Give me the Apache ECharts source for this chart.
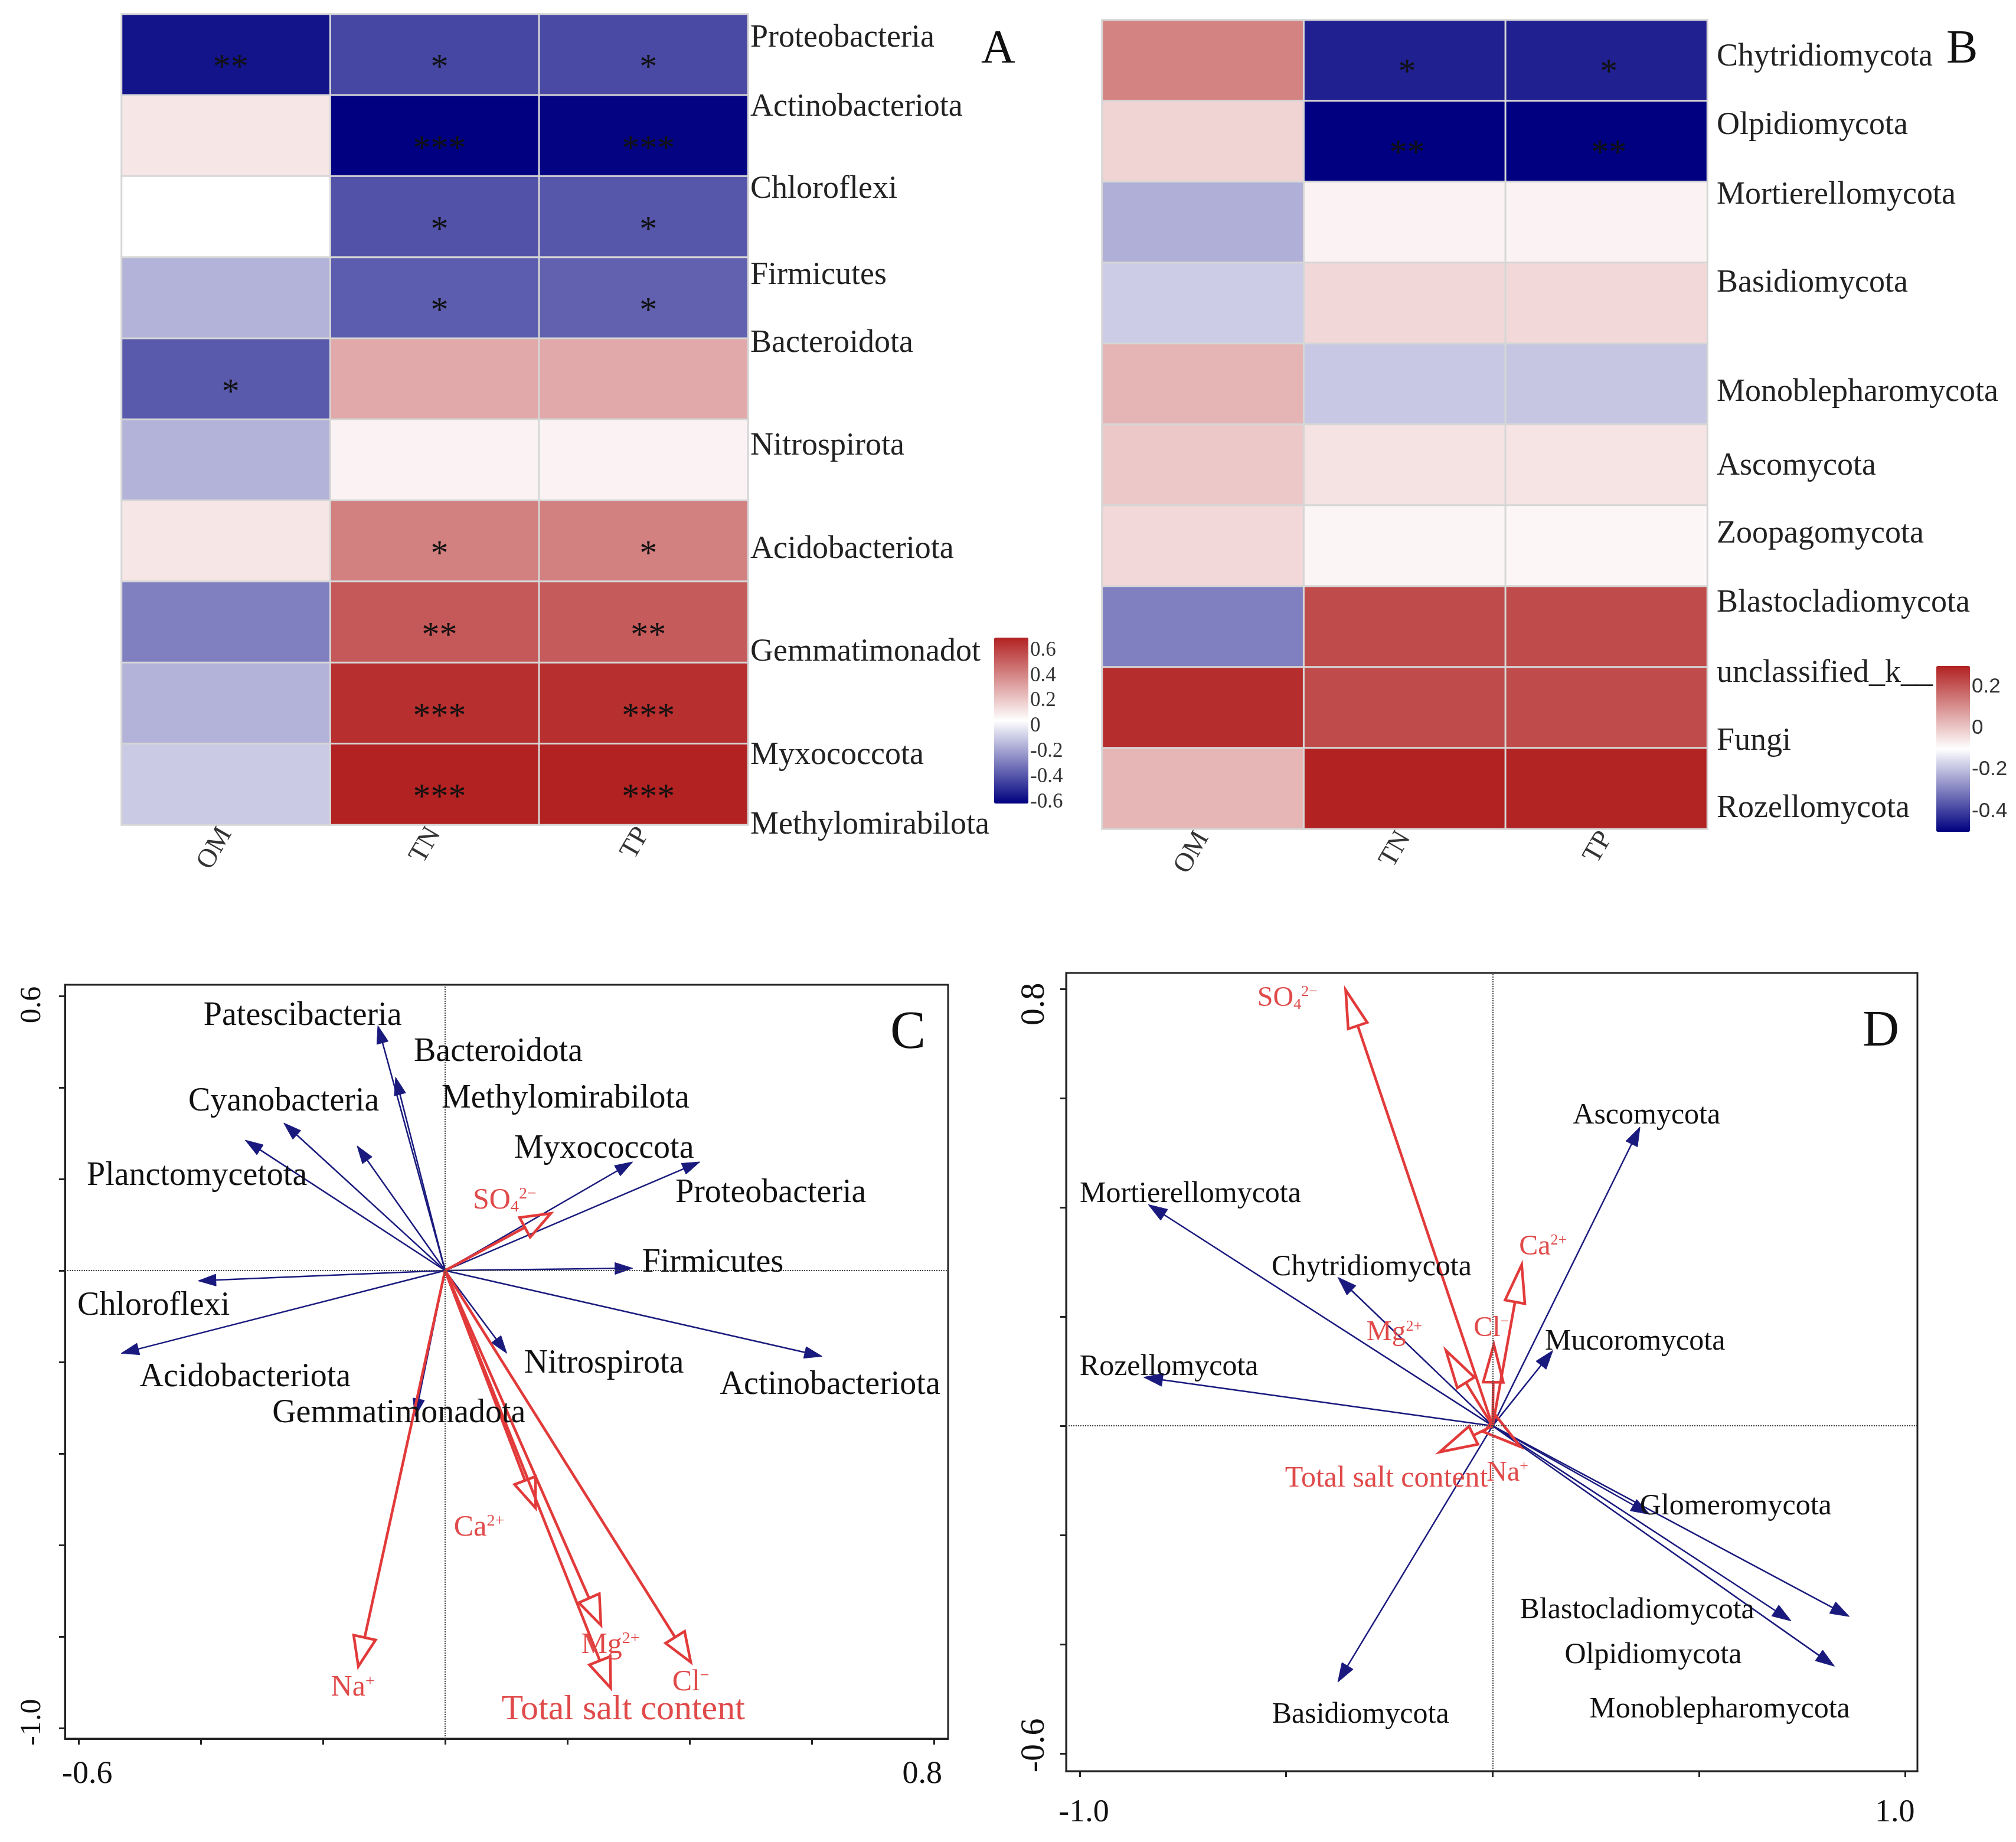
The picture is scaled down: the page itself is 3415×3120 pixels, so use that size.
<!DOCTYPE html>
<html><head><meta charset="utf-8">
<script src="https://cdn.jsdelivr.net/npm/echarts@6.0.0/dist/echarts.min.js"></script>
<style>html,body{margin:0;padding:0;background:#fff}#c{width:3415px;height:3120px}</style>
</head><body><div id="c"></div>
<script>
// ---------------- DATA ----------------
const envCols = ['OM', 'TN', 'TP'];

// Panel A : bacteria vs OM/TN/TP correlations
const bacteriaRows = ['Proteobacteria','Actinobacteriota','Chloroflexi','Firmicutes','Bacteroidota','Nitrospirota','Acidobacteriota','Gemmatimonadot','Myxococcota','Methylomirabilota'];
const bacteriaOM = [-0.56, 0.12, 0.045, -0.15, -0.38, -0.15, 0.12, -0.28, -0.15, -0.09];
const bacteriaTN = [-0.43, -0.61, -0.40, -0.37, 0.30, 0.08, 0.42, 0.54, 0.66, 0.70];
const bacteriaTP = [-0.42, -0.60, -0.39, -0.36, 0.30, 0.08, 0.42, 0.53, 0.66, 0.70];
const bacteriaStarsOM = ['**','','','','*','','','','',''];
const bacteriaStarsTN = ['*','***','*','*','','','*','**','***','***'];
const bacteriaStarsTP = ['*','***','*','*','','','*','**','***','***'];
const scaleA = [-0.61, 0.70];
const ticksA = [-0.6, -0.4, -0.2, 0, 0.2, 0.4, 0.6];

// Panel B : fungi vs OM/TN/TP correlations
const fungiRows = ['Chytridiomycota','Olpidiomycota','Mortierellomycota','Basidiomycota','Monoblepharomycota','Ascomycota','Zoopagomycota','Blastocladiomycota','unclassified_k__Fungi','Rozellomycota'];
const fungiOM = [0.125, -0.02, -0.225, -0.18, 0.035, 0.0, -0.03, -0.30, 0.28, 0.032];
const fungiTN = [-0.45, -0.50, -0.078, -0.028, -0.186, -0.05, -0.082, 0.226, 0.226, 0.30];
const fungiTP = [-0.45, -0.50, -0.078, -0.03, -0.19, -0.052, -0.083, 0.225, 0.225, 0.298];
const fungiStarsOM = ['','','','','','','','','',''];
const fungiStarsTN = ['*','**','','','','','','','',''];
const fungiStarsTP = ['*','**','','','','','','','',''];
const scaleB = [-0.5, 0.3];
const ticksB = [-0.4, -0.2, 0, 0.2];

// Panel C : bacterial RDA
const cSpecies = ['Patescibacteria','Bacteroidota','Cyanobacteria','Planctomycetota','Methylomirabilota','Myxococcota','Proteobacteria','Firmicutes','Chloroflexi','Acidobacteriota','Nitrospirota','Actinobacteriota','Gemmatimonadota'];
const cSpeciesX = [-0.110, -0.081, -0.264, -0.327, -0.144, 0.307, 0.417, 0.307, -0.404, -0.530, 0.101, 0.617, -0.049];
const cSpeciesY = [0.535, 0.4225, 0.3225, 0.285, 0.2725, 0.2375, 0.2375, 0.005, -0.0225, -0.181, -0.181, -0.1875, -0.319];
const cEnv = ['SO4 2-','Ca2+','Mg2+','Total salt content','Cl-','Na+'];
const cEnvX = [0.173, 0.148, 0.255, 0.271, 0.402, -0.142];
const cEnvY = [0.125, -0.519, -0.775, -0.9125, -0.856, -0.865];
const cTicksX = [-0.6, -0.4, -0.2, 0, 0.2, 0.4, 0.6, 0.8];
const cTicksY = [-1.0, -0.8, -0.6, -0.4, -0.2, 0, 0.2, 0.4, 0.6];
const cLabelsX = [-0.6, 0.8];
const cLabelsY = [-1.0, 0.6];

// Panel D : fungal RDA
const dSpecies = ['Ascomycota','Mortierellomycota','Chytridiomycota','Rozellomycota','Mucoromycota','Glomeromycota','Blastocladiomycota','Olpidiomycota','Monoblepharomycota','Basidiomycota'];
const dSpeciesX = [0.357, -0.834, -0.375, -0.845, 0.146, 0.381, 0.723, 0.864, 0.828, -0.375];
const dSpeciesY = [0.547, 0.405, 0.272, 0.089, 0.138, -0.162, -0.357, -0.349, -0.440, -0.469];
const dEnv = ['SO4 2-','Ca2+','Cl-','Mg2+','Total salt content','Na+'];
const dEnvX = [-0.356, 0.0705, 0.003, -0.113, -0.1285, 0.067];
const dEnvY = [0.798, 0.295, 0.149, 0.138, -0.048, -0.038];
const dTicksX = [-1.0, -0.5, 0, 0.5, 1.0];
const dTicksY = [-0.6, -0.4, -0.2, 0, 0.2, 0.4, 0.6, 0.8];
const dLabelsX = [-1.0, 1.0];
const dLabelsY = [-0.6, 0.8];

// ---------------- LAYOUT / STYLE ----------------
const FONT = "'Liberation Serif', 'Times New Roman', serif";
const SANS = "'Liberation Sans', Arial, sans-serif";
const NAVY = '#000080', FIRE = '#B22222';
const BLUE = '#1a1a7e', RED = '#e23a3a', RED_TXT = '#e04a4a';
// label anchors (text positions, in data units)
const cSpeciesLabelX = [-0.233, 0.087, -0.264, -0.406, 0.197, 0.260, 0.533, 0.438, -0.477, -0.327, 0.260, 0.630, -0.0755];
const cSpeciesLabelY = [0.556, 0.4775, 0.369, 0.206, 0.375, 0.266, 0.169, 0.016, -0.0775, -0.234, -0.204, -0.25, -0.3125];
const cEnvLabelX = [0.0975, 0.0556, 0.2705, 0.2915, 0.402, -0.151];
const cEnvLabelY = [0.1525, -0.5625, -0.819, -0.96, -0.9, -0.9125];
const dSpeciesLabelX = [0.373, -0.732, -0.293, -0.784, 0.345, 0.589, 0.350, 0.389, 0.550, -0.320];
const dSpeciesLabelY = [0.568, 0.424, 0.290, 0.107, 0.154, -0.148, -0.338, -0.420, -0.519, -0.529];
const dEnvLabelX = [-0.497, 0.122, -0.003, -0.238, -0.257, 0.036];
const dEnvLabelY = [0.782, 0.327, 0.178, 0.170, -0.097, -0.087];
const rowShiftA = [-28, -48, -46, -38, -60, -23, 14, 51, 89, 69];
const rowShiftB = [-6, -27, -46, -34, 14, 2, -20, -40, -2, 34];

const ionRich = {
  'SO4 2-': '{m|SO}{sub|4}{sup|2\u2212}',
  'Ca2+': '{m|Ca}{sup|2+}',
  'Mg2+': '{m|Mg}{sup|2+}',
  'Cl-': '{m|Cl}{sup|\u2212}',
  'Na+': '{m|Na}{sup|+}',
  'Total salt content': '{m|Total salt content}'
};

function heatData(cols) {
  const out = [];
  cols.forEach((arr, xi) => arr.forEach((v, yi) => out.push([xi, yi, v])));
  return out;
}
function rowRich(shifts, size, special) {
  const r = {};
  shifts.forEach((d, i) => {
    r['r' + i] = { fontSize: size, fontFamily: FONT, color: '#222',
      padding: d < 0 ? [0, 0, -2 * d, 0] : [2 * d, 0, 0, 0] };
    if (special && special[i]) Object.assign(r['r' + i], special[i]);
  });
  return r;
}
function rowFormatter(v, i) {
  if (v === 'unclassified_k__Fungi') return '{r' + i + '|unclassified_k__}\n{r' + i + '|Fungi}';
  return '{r' + i + '|' + v + '}';
}
const fmt1 = v => Math.abs(v) < 1e-9 ? '0' : (Math.round(v * 10) / 10).toString();

function heatX(gi) {
  return { gridIndex: gi, type: 'category', data: envCols, position: 'bottom',
    axisLine: { show: false }, axisTick: { show: false }, splitLine: { show: false },
    axisLabel: { rotate: 60, interval: 0, fontSize: 46, fontFamily: FONT, color: '#333', margin: 8 } };
}
function heatY(gi, rows, shifts, margin, special) {
  return { gridIndex: gi, type: 'category', data: rows, inverse: true, position: 'right',
    axisLine: { show: false }, axisTick: { show: false }, splitLine: { show: false },
    axisLabel: { interval: 0, margin: margin, align: 'left', formatter: rowFormatter, rich: rowRich(shifts, 54, special) } };
}
function cbY(gi, range, ticks, font) {
  return { gridIndex: gi, type: 'value', min: range[0], max: range[1], position: 'right',
    axisLine: { show: false }, splitLine: { show: false },
    axisTick: { show: true, length: 9, inside: false, customValues: ticks, lineStyle: { color: '#333', width: 2 } },
    axisLabel: { customValues: ticks, formatter: fmt1, fontSize: 35, fontFamily: font, color: '#333', margin: 3 } };
}
function frameAxis(gi, dim, range, ticks, labels, shiftMap, rotate, margin, fontSize) {
  const rich = {};
  labels.forEach((v, i) => {
    const s = shiftMap[i];
    rich['l' + i] = { fontSize: fontSize, fontFamily: FONT, color: '#111',
      padding: s < 0 ? [0, -2 * s, 0, 0] : [0, 0, 0, 2 * s] };
  });
  return { gridIndex: gi, type: 'value', min: range[0], max: range[1],
    position: dim === 'x' ? 'bottom' : 'left',
    axisLine: { show: true, onZero: false, lineStyle: { color: '#222', width: 3 } },
    splitLine: { show: false },
    axisTick: { show: true, inside: false, length: 10, customValues: ticks, lineStyle: { color: '#222', width: 3 } },
    axisLabel: { customValues: labels, rotate: rotate, margin: margin,
      formatter: v => { const i = labels.findIndex(l => Math.abs(l - v) < 1e-6); return '{l' + i + '|' + v.toFixed(1) + '}'; },
      rich: rich } };
}
function arrowSeries(gi, xs, ys, st) {
  return { type: 'custom', xAxisIndex: gi, yAxisIndex: gi, silent: true, z: st.z, clip: false,
    data: xs.map((x, i) => [x, ys[i]]),
    renderItem: (params, api) => {
      const o = api.coord([0, 0]);
      const t = api.coord([api.value(0), api.value(1)]);
      const dx = t[0] - o[0], dy = t[1] - o[1];
      const len = Math.hypot(dx, dy) || 1;
      const ux = dx / len, uy = dy / len;
      const bx = t[0] - ux * st.head, by = t[1] - uy * st.head;
      const hw = st.width / 2;
      const l = [bx - uy * hw, by + ux * hw], r = [bx + uy * hw, by - ux * hw];
      return { type: 'group', children: [
        { type: 'line', shape: { x1: o[0], y1: o[1], x2: st.hollow ? bx : t[0] - ux * st.head * 0.5, y2: st.hollow ? by : t[1] - uy * st.head * 0.5 },
          style: { stroke: st.color, lineWidth: st.lw } },
        { type: 'polygon', shape: { points: [t, l, r] },
          style: st.hollow ? { fill: 'rgba(255,255,255,0)', stroke: st.color, lineWidth: st.lw, lineJoin: 'miter' }
                           : { fill: st.color, stroke: st.color, lineWidth: 1 } }
      ] };
    } };
}
function labelSeries(gi, names, xs, ys, st) {
  return { type: 'custom', xAxisIndex: gi, yAxisIndex: gi, silent: true, z: 10, clip: false,
    data: xs.map((x, i) => [x, ys[i]]),
    renderItem: (params, api) => {
      const p = api.coord([api.value(0), api.value(1)]);
      const name = names[params.dataIndex];
      if (st.ion) {
        const big = name === 'Total salt content' ? st.bigSize : st.size;
        return { type: 'text', x: p[0], y: p[1], style: {
          text: ionRich[name], align: 'center', verticalAlign: 'middle', fill: st.color,
          fontSize: big, fontFamily: FONT,
          rich: { m: { fontSize: big, fontFamily: FONT, fill: st.color, verticalAlign: 'middle' },
                  sub: { fontSize: Math.round(st.size * 0.55), fontFamily: FONT, fill: st.color, verticalAlign: 'bottom' },
                  sup: { fontSize: Math.round(st.size * 0.55), fontFamily: FONT, fill: st.color, verticalAlign: 'top' } } } };
      }
      return { type: 'text', x: p[0], y: p[1], style: { text: name, align: 'center', verticalAlign: 'middle',
        fill: st.color, fontSize: st.size, fontFamily: FONT } };
    } };
}
function zeroLines(gi) {
  return { type: 'line', xAxisIndex: gi, yAxisIndex: gi, data: [[0, 0]], showSymbol: false, silent: true,
    lineStyle: { width: 0 }, z: 1,
    markLine: { silent: true, symbol: 'none', animation: false, label: { show: false },
      lineStyle: { type: 'dotted', color: '#444', width: 2 },
      data: [{ xAxis: 0 }, { yAxis: 0 }] } };
}

const starsA = [bacteriaStarsOM, bacteriaStarsTN, bacteriaStarsTP];
const starsB = [fungiStarsOM, fungiStarsTN, fungiStarsTP];

const option = {
  backgroundColor: '#ffffff',
  animation: false,
  grid: [
    { left: 206, top: 24, width: 1061, height: 1373 },
    { left: 1867, top: 34, width: 1025, height: 1370 },
    { left: 1700, top: 1080, width: 42, height: 281 },
    { left: 3295, top: 1128, width: 42, height: 281 },
    { left: 110, top: 1668, width: 1496, height: 1277, show: true, borderColor: '#222', borderWidth: 3 },
    { left: 1806, top: 1648, width: 1442, height: 1352, show: true, borderColor: '#222', borderWidth: 3 }
  ],
  xAxis: [
    heatX(0), heatX(1),
    { gridIndex: 2, type: 'value', show: false },
    { gridIndex: 3, type: 'value', show: false },
    frameAxis(4, 'x', [-0.622, 0.823], cTicksX, cLabelsX, [15, -20], 0, 34, 54),
    frameAxis(5, 'x', [-1.033, 1.029], dTicksX, dLabelsX, [7, -18], 0, 44, 54)
  ],
  yAxis: [
    heatY(0, bacteriaRows, rowShiftA, 4),
    heatY(1, fungiRows, rowShiftB, 16, { 8: { lineHeight: 115, padding: 0 } }),
    cbY(2, scaleA, ticksA, FONT),
    cbY(3, scaleB, ticksB, SANS),
    frameAxis(4, 'y', [-1.023, 0.6245], cTicksY, cLabelsY, [10, -15], 90, 30, 50),
    frameAxis(5, 'y', [-0.632, 0.829], dTicksY, dLabelsY, [14, -26], 90, 24, 58)
  ],
  visualMap: [
    { type: 'continuous', seriesIndex: 0, dimension: 2, min: scaleA[0], max: scaleA[1], calculable: false,
      inRange: { color: [NAVY, '#ffffff', FIRE] }, left: 1684, top: 1080, itemWidth: 58, itemHeight: 281,
      padding: 0, text: null, hoverLink: false, realtime: false },
    { type: 'continuous', seriesIndex: 1, dimension: 2, min: scaleB[0], max: scaleB[1], calculable: false,
      inRange: { color: [NAVY, '#ffffff', FIRE] }, left: 3280, top: 1128, itemWidth: 57, itemHeight: 281,
      padding: 0, text: null, hoverLink: false, realtime: false }
  ],
  graphic: [
    { type: 'text', left: 1662, top: 45, style: { text: 'A', fontSize: 80, fontFamily: FONT, fill: '#111' } },
    { type: 'text', left: 3297, top: 45, style: { text: 'B', fontSize: 80, fontFamily: FONT, fill: '#111' } },
    { type: 'text', left: 1508, top: 1706, style: { text: 'C', fontSize: 90, fontFamily: FONT, fill: '#111' } },
    { type: 'text', left: 3155, top: 1705, style: { text: 'D', fontSize: 86, fontFamily: FONT, fill: '#111' } }
  ],
  series: [
    { type: 'heatmap', xAxisIndex: 0, yAxisIndex: 0, data: heatData([bacteriaOM, bacteriaTN, bacteriaTP]),
      itemStyle: { borderColor: '#d6d6d6', borderWidth: 3 },
      label: { show: true, formatter: p => starsA[p.data[0]][p.data[1]], fontSize: 60, fontFamily: FONT, color: '#111', offset: [8, 24] },
      emphasis: { disabled: true } },
    { type: 'heatmap', xAxisIndex: 1, yAxisIndex: 1, data: heatData([fungiOM, fungiTN, fungiTP]),
      itemStyle: { borderColor: '#d6d6d6', borderWidth: 3 },
      label: { show: true, formatter: p => starsB[p.data[0]][p.data[1]], fontSize: 60, fontFamily: FONT, color: '#111', offset: [4, 22] },
      emphasis: { disabled: true } },
    zeroLines(4),
    arrowSeries(4, cSpeciesX, cSpeciesY, { color: BLUE, lw: 2.5, head: 30, width: 20, hollow: false, z: 3 }),
    arrowSeries(4, cEnvX, cEnvY, { color: RED, lw: 4.5, head: 50, width: 38, hollow: true, z: 4 }),
    labelSeries(4, cSpecies, cSpeciesLabelX, cSpeciesLabelY, { color: '#111', size: 56 }),
    labelSeries(4, cEnv, cEnvLabelX, cEnvLabelY, { color: RED_TXT, size: 50, bigSize: 60, ion: true }),
    zeroLines(5),
    arrowSeries(5, dSpeciesX, dSpeciesY, { color: BLUE, lw: 2.5, head: 32, width: 22, hollow: false, z: 3 }),
    arrowSeries(5, dEnvX, dEnvY, { color: RED, lw: 4.5, head: 64, width: 34, hollow: true, z: 4 }),
    labelSeries(5, dSpecies, dSpeciesLabelX, dSpeciesLabelY, { color: '#111', size: 50 }),
    labelSeries(5, dEnv, dEnvLabelX, dEnvLabelY, { color: RED_TXT, size: 48, bigSize: 50, ion: true })
  ]
};

const chart = echarts.init(document.getElementById('c'), null, { renderer: 'canvas', width: 3415, height: 3120 });
chart.setOption(option);
</script>
</body></html>
